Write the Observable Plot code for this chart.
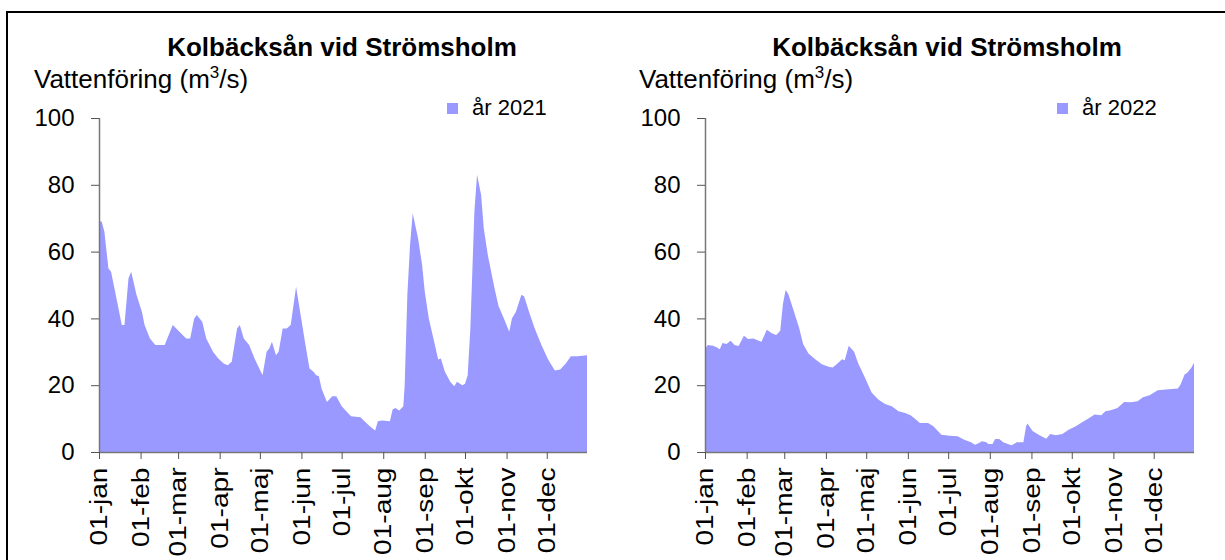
<!DOCTYPE html>
<html><head><meta charset="utf-8">
<script src="https://cdn.jsdelivr.net/npm/d3@7"></script>
<script src="https://cdn.jsdelivr.net/npm/@observablehq/plot@0.6"></script>
<style>
html,body{margin:0;padding:0;background:#fff;}
body{font-family:"Liberation Sans",Arial,sans-serif;color:#000;}
#wrap{position:relative;width:1225px;height:560px;overflow:hidden;background:#fff;}
#frame{position:absolute;left:6px;top:11px;width:1400px;height:800px;border:2px solid #000;box-sizing:border-box;}
.chart{position:absolute;top:0;}
.title{position:absolute;font-weight:bold;font-size:26px;line-height:1;white-space:nowrap;transform:translateX(-50%);}
.ylab{position:absolute;font-size:26px;line-height:1;white-space:nowrap;}
.ylab sup{font-size:17px;line-height:0;vertical-align:10px;}
.leg{position:absolute;font-size:22px;line-height:1;white-space:nowrap;display:flex;align-items:center;}
.leg i{display:inline-block;width:11px;height:11px;background:#9999ff;margin-right:14px;}
</style></head>
<body>
<div id="wrap">
  <div id="frame"></div>
</div>
<script>
const monthTicks = [0,31,59,90,120,151,181,212,243,273,304,334];
const monthLabels = ["01-jan","01-feb","01-mar","01-apr","01-maj","01-jun","01-jul","01-aug","01-sep","01-okt","01-nov","01-dec"];
const yTicks = [0,20,40,60,80,100];
const chartTitle = "Kolbäcksån vid Strömsholm";
const seriesNames = ["år 2021","år 2022"];

const days2021 = [0,2,4,7,9,13,17,19,22,24,28,32,34,38,42,49,52,55,60,65,68,71,73,77,80,85,89,93,96,99,103,105,108,112,116,122,125,127,129,132,134,137,140,143,147,150,154,157,160,162,164,166,170,174,177,181,185,188,195,198,202,206,208,211,217,219,221,224,227,228,230,232,234,236,238,241,243,246,250,253,255,258,262,265,267,271,273,275,277,280,282,285,287,290,292,295,298,302,306,308,311,315,317,321,325,330,335,340,344,348,352,357,364];
const flow2021 = [69,69,66,55,54,46,38,38,52,54,47,42,38,34,32,32,35,38,36,34,34,40,41,39,34,30,28,26.5,26,27,37,38,34,32,28,23,30,31,33,29,30,37,37,38,49.5,42,32,25,24,23,22.7,19,15,16.7,16.7,13.7,12,10.7,10.4,9.2,7.7,6.4,9.2,9.4,9.2,12.7,13.2,12.4,13.7,20,47,62,71.5,67.7,64,56,48,40,33,27.7,28,24,21,19.7,21,20,20.4,23,37,72,83,77,67,59,55,49,43.7,40,36,40,42,47,46.7,41.7,37,32,27.7,24.4,24.7,26.4,28.7,28.7,29];

const days2022 = [0,2,6,9,11,13,16,19,22,25,29,32,36,40,42,46,50,53,56,58,60,62,66,70,73,77,82,87,92,95,98,102,104,107,111,114,119,124,129,134,139,144,149,153,157,160,166,170,176,182,188,193,198,201,204,206,209,211,214,216,219,222,228,230,232,237,239,240,244,249,254,257,261,266,271,276,281,286,290,295,298,302,307,312,317,322,326,331,337,343,352,354,357,359,362,364];
const flow2022 = [30.8,32,31.8,31.3,30.8,32.6,32.3,33.3,32,31.7,34.8,33.8,34,33.3,33,36.6,35.5,35,36.3,44.3,48.5,47.3,42.3,37.3,32.3,29.5,27.8,26.3,25.5,25.3,26.3,27.8,27.5,31.8,30,26.6,22.3,17.8,15.7,14.4,13.7,12.2,11.7,11,9.7,8.7,8.7,7.7,5.2,4.9,4.7,3.7,2.9,2.2,2.7,3.2,3,2.4,2.4,3.9,3.9,2.9,2,2.4,2.9,2.9,7.7,8.5,6.2,5,4,5.4,5,5.4,6.7,7.7,9,10.2,11.2,11,12.2,12.5,13.2,15,14.9,15.2,16.4,17,18.5,18.7,19,20.2,23.2,23.7,25.2,26.7];

const fillColor = "#9999ff";
const wrap = document.getElementById("wrap");

function makeChart(days, flows, opt) {
  const data = days.map((d, i) => ({day: d, flow: flows[i]}));
  const svg = Plot.plot({
    width: opt.width, height: 560,
    marginLeft: opt.ml, marginRight: opt.mr, marginTop: 118, marginBottom: 108,
    x: {domain: [0, 364]},
    y: {domain: [0, 100]},
    style: {fontFamily: '"Liberation Sans", Arial, sans-serif', fontSize: "24px", color: "#000", background: "transparent", overflow: "visible"},
    marks: [
      Plot.areaY(data, {x: "day", y: "flow", fill: fillColor}),
      Plot.ruleY([0], {stroke: "#777", strokeWidth: 1.5}),
      Plot.ruleX([0], {stroke: "#777", strokeWidth: 1.5}),
      Plot.axisY({ticks: yTicks, tickSize: 8, tickPadding: 17, label: null, fontSize: 24, stroke: "#555"}),
      Plot.axisX({ticks: monthTicks, tickFormat: d => monthLabels[monthTicks.indexOf(d)], tickRotate: -90, tickSize: 7, tickPadding: 8, label: null, fontSize: 24, stroke: "#555"})
    ]
  });
  // stretch rotated month labels along their length, as in the reference
  svg.querySelectorAll("text").forEach(t => {
    const tr = t.getAttribute("transform") || "";
    if (tr.includes("rotate(-90)")) t.setAttribute("transform", tr + " scale(1.17,1)");
  });
  const holder = document.createElement("div");
  holder.className = "chart";
  holder.style.left = opt.left + "px";
  holder.appendChild(svg);
  wrap.appendChild(holder);

  const t = document.createElement("div");
  t.className = "title"; t.textContent = chartTitle;
  t.style.left = opt.titleX + "px"; t.style.top = "34px";
  wrap.appendChild(t);

  const yl = document.createElement("div");
  yl.className = "ylab";
  yl.innerHTML = "Vattenföring (m<sup>3</sup>/s)";
  yl.style.left = opt.ylabX + "px"; yl.style.top = "66px";
  wrap.appendChild(yl);

  const lg = document.createElement("div");
  lg.className = "leg";
  lg.innerHTML = "<i></i><span></span>";
  lg.querySelector("span").textContent = opt.name;
  lg.style.left = opt.legX + "px"; lg.style.top = "97px";
  wrap.appendChild(lg);
}

makeChart(days2021, flow2021, {left: 0, width: 612, ml: 99, mr: 25, titleX: 342, ylabX: 34, legX: 447, name: seriesNames[0]});
makeChart(days2022, flow2022, {left: 612, width: 613, ml: 93, mr: 31, titleX: 947, ylabX: 639, legX: 1057, name: seriesNames[1]});
</script>
</body></html>
